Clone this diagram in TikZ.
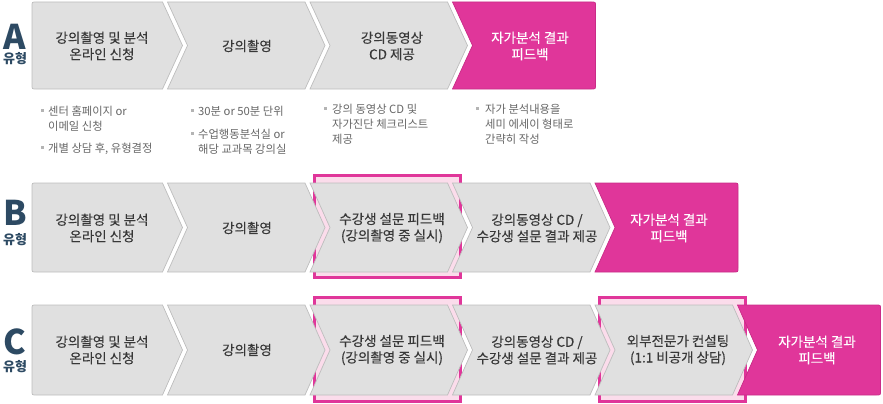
\documentclass[tikz,border=0pt]{standalone}
\usepackage{fontspec}
\setmainfont{Noto Sans CJK KR}
\newfontfamily\medfont[FakeBold=0.3]{Noto Sans CJK KR}
\definecolor{gfill}{HTML}{E0E0E0}
\definecolor{gline}{HTML}{BDBDBD}
\definecolor{pk}{HTML}{E0369A}
\definecolor{pkline}{HTML}{C92C87}
\definecolor{lpk}{HTML}{FBDCEB}
\definecolor{ttlc}{HTML}{383838}
\definecolor{bulc}{HTML}{666666}
\definecolor{sqc}{HTML}{B4B4B4}
\definecolor{labc}{HTML}{2D4A63}
\tikzset{
  greybox/.style={fill=gfill, draw=gline, line width=0.7pt},
  pinkbox/.style={fill=pk, draw=pkline, line width=0.7pt},
  frm/.style={fill=lpk, draw=pk, line width=3pt},
  ttl/.style={font=\medfont\fontsize{13.5}{16.5}\selectfont, text=ttlc, align=center, inner sep=0pt},
  wttl/.style={ttl, text=white},
  btxt/.style={font=\fontsize{11.3}{15}\selectfont, text=bulc, align=left, inner sep=0pt, anchor=north west},
  bsq/.style={fill=sqc, minimum size=3pt, inner sep=0pt},
  biglab/.style={font=\fontsize{34}{34}\selectfont\bfseries, text=labc, inner sep=0pt},
  smlab/.style={font=\fontsize{13}{13}\selectfont\bfseries, text=labc, inner sep=0pt},
}
% middle chevron: L, top, bottom, style
\newcommand\chevmid[4]{%
  \path[#4] (#1,#2) -- ({#1+137.5},#2) -- ({#1+157.5},{(#2+#3)/2}) -- ({#1+137.5},#3)
    -- (#1,#3) -- ({#1+20},{(#2+#3)/2}) -- cycle;}
% first chevron: top, bottom, style
\newcommand\chevfirst[3]{%
  \path[#3] (36,#1) -- (162.5,#1) -- (182.5,{(#1+#2)/2}) -- (162.5,#2) -- (36,#2)
    .. controls (32,#2) .. (32,{#2-4}) -- (32,{#1+4}) .. controls (32,#1) .. cycle;}
% last box: L, top, bottom, style
\newcommand\chevlast[4]{%
  \path[#4] (#1,#2) -- ({#1+139},#2) .. controls ({#1+143},#2) .. ({#1+143},{#2+4})
    -- ({#1+143},{#3-4}) .. controls ({#1+143},#3) .. ({#1+139},#3) -- (#1,#3)
    -- ({#1+20},{(#2+#3)/2}) -- cycle;}
\begin{document}
\begin{tikzpicture}[x=1pt,y=-1pt]
\useasboundingbox (0,0) rectangle (883,404);
% highlight frames
\path[frm] (314.5,175.5) rectangle (460.5,277.5);
\path[frm] (314.5,297.5) rectangle (460.5,401.5);
\path[frm] (599.5,297.5) rectangle (745.5,401.5);
% row A
\chevfirst{2}{89}{greybox}
\chevmid{167.5}{2}{89}{greybox}
\chevmid{310}{2}{89}{greybox}
\chevlast{452.5}{2}{89}{pinkbox}
% row B
\chevfirst{183}{272}{greybox}
\chevmid{167.5}{183}{272}{greybox}
\chevmid{310}{183}{272}{greybox}
\chevmid{452.5}{183}{272}{greybox}
\chevlast{595}{183}{272}{pinkbox}
% row C
\chevfirst{305}{395}{greybox}
\chevmid{167.5}{305}{395}{greybox}
\chevmid{310}{305}{395}{greybox}
\chevmid{452.5}{305}{395}{greybox}
\chevmid{595}{305}{395}{greybox}
\chevlast{737.5}{305}{395}{pinkbox}
% labels
\node[biglab] (labA) at (15,37) {A};
\node[smlab] (typA) at (15,59) {유형};
\node[biglab] (labB) at (15,213) {B};
\node[smlab] (typB) at (15,240) {유형};
\node[biglab] (labC) at (15,342) {C};
\node[smlab] (typC) at (15,367) {유형};
% row A texts
\node[ttl] (a0) at (102,46) {강의촬영 및 분석\\온라인 신청};
\node[ttl] (a1) at (247,46) {강의촬영};
\node[ttl] (a2) at (392,46) {강의동영상\\CD 제공};
\node[wttl] (a3) at (530,46) {자가분석 결과\\피드백};
% row B texts
\node[ttl] (b0) at (102,228) {강의촬영 및 분석\\온라인 신청};
\node[ttl] (b1) at (247,228) {강의촬영};
\node[ttl] (b2) at (392,228) {수강생 설문 피드백\\(강의촬영 중 실시)};
\node[ttl] (b3) at (537,228) {강의동영상 CD /\\수강생 설문 결과 제공};
\node[wttl] (b4) at (669,228) {자가분석 결과\\피드백};
% row C texts
\node[ttl] (c0) at (102,350) {강의촬영 및 분석\\온라인 신청};
\node[ttl] (c1) at (247,350) {강의촬영};
\node[ttl] (c2) at (392,350) {수강생 설문 피드백\\(강의촬영 중 실시)};
\node[ttl] (c3) at (537,350) {강의동영상 CD /\\수강생 설문 결과 제공};
\node[ttl] (c4) at (678,350) {외부전문가 컨설팅\\(1:1 비공개 상담)};
\node[wttl] (c5) at (817,350) {자가분석 결과\\피드백};
% bullets
\node[bsq] (s1) at (42,110) {};
\node[btxt] (t1) at (48,106) {센터 홈페이지 or\\이메일 신청};
\node[bsq] (s2) at (42,147) {};
\node[btxt] (t2) at (48,143) {개별 상담 후, 유형결정};
\node[bsq] (s3) at (192,110) {};
\node[btxt] (t3) at (198,106) {30분 or 50분 단위};
\node[bsq] (s4) at (192,133) {};
\node[btxt] (t4) at (198,129) {수업행동분석실 or\\해당 교과목 강의실};
\node[bsq] (s5) at (325,108) {};
\node[btxt] (t5) at (332,104) {강의 동영상 CD 및\\자가진단 체크리스트\\제공};
\node[bsq] (s6) at (477,108) {};
\node[btxt] (t6) at (485,104) {자가 분석내용을\\세미 에세이 형태로\\간략히 작성};
\end{tikzpicture}
\end{document}
